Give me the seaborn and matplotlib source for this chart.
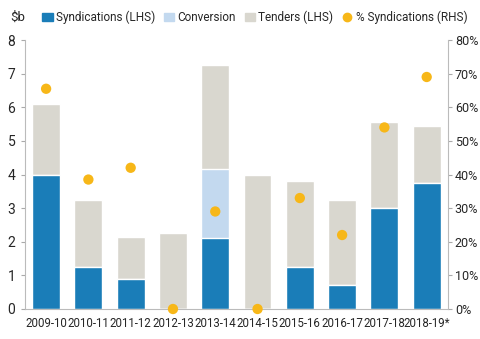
import numpy as np
import pandas as pd
import matplotlib
matplotlib.use("Agg")
import matplotlib.pyplot as plt
import seaborn as sns
from matplotlib.patches import Patch
from matplotlib.lines import Line2D

years = ['2009-10', '2010-11', '2011-12', '2012-13', '2013-14',
         '2014-15', '2015-16', '2016-17', '2017-18', '2018-19*']
syndications = [4.0, 1.25, 0.9, 0.0, 2.1, 0.0, 1.25, 0.7, 3.0, 3.75]
conversion = [0.0, 0.0, 0.0, 0.0, 2.05, 0.0, 0.0, 0.0, 0.0, 0.0]
tenders = [2.1, 2.0, 1.25, 2.25, 3.1, 4.0, 2.55, 2.55, 2.55, 1.7]
pct_synd = [65.5, 38.5, 42.0, 0.0, 29.0, 0.0, 33.0, 22.0, 54.0, 69.0]

c_synd = '#1a7db8'
c_conv = '#c3d9ef'
c_tend = '#d9d7cf'
c_dot = '#f7b718'

sns.set_style('white')
plt.rcParams['font.family'] = ['Roboto', 'DejaVu Sans']
plt.rcParams['font.size'] = 9.5

df = pd.DataFrame({'year': years, 'synd': syndications, 'conv': conversion,
                   'tend': tenders, 'pct': pct_synd})
df['synd_conv'] = df['synd'] + df['conv']
df['total'] = df['synd_conv'] + df['tend']

fig = plt.figure(figsize=(4.8, 3.39), dpi=100)
ax = fig.add_axes([0.052, 0.0885, 0.881, 0.7935])

# stacked look: draw totals, then the lower layers on top
sns.barplot(data=df, x='year', y='total', color=c_tend, width=0.66, ax=ax, saturation=1)
sns.barplot(data=df, x='year', y='synd_conv', color=c_conv, width=0.66, ax=ax, saturation=1)
sns.barplot(data=df, x='year', y='synd', color=c_synd, width=0.66, ax=ax, saturation=1)

ax.set_xlim(-0.5, 9.5)
ax.set_ylim(0, 8)
ax.set_yticks(range(0, 9))
ax.set_xlabel('')
ax.set_ylabel('')
ax.set_xticks(np.arange(-0.5, 10, 1), minor=True)
ax.tick_params(axis='x', which='major', length=0, pad=6, labelsize=8.3)
ax.tick_params(axis='x', which='minor', length=3, direction='in', color='#aaaaaa')
ax.tick_params(axis='y', length=3, color='#aaaaaa', pad=4, labelsize=10)

ax2 = ax.twinx()
sns.scatterplot(x=np.arange(len(years)), y=df['pct'], color=c_dot, s=55,
                edgecolor='none', ax=ax2, clip_on=False, zorder=5)
ax2.set_ylim(0, 80)
ax2.set_yticks(range(0, 81, 10))
ax2.set_yticklabels([f'{v}%' for v in range(0, 81, 10)])
ax2.set_ylabel('')
ax2.tick_params(axis='y', length=3, color='#aaaaaa', pad=2, labelsize=9)
ax2.set_xlim(-0.5, 9.5)

for a in (ax, ax2):
    a.spines['top'].set_visible(False)
    for s in ('left', 'right', 'bottom'):
        a.spines[s].set_color('#bbbbbb')
        a.spines[s].set_linewidth(0.8)
ax.spines['right'].set_visible(False)
ax2.spines['left'].set_visible(False)
ax2.spines['bottom'].set_visible(False)

handles = [Patch(color=c_synd), Patch(color=c_conv), Patch(color=c_tend),
           Line2D([], [], marker='o', ls='', color=c_dot, markersize=6)]
labels = ['Syndications (LHS)', 'Conversion', 'Tenders (LHS)', '% Syndications (RHS)']
fig.legend(handles, labels, loc='center left', bbox_to_anchor=(0.078, 0.948),
           ncol=4, frameon=False, handlelength=0.9, handleheight=0.7,
           handletextpad=0.25, columnspacing=0.75, borderaxespad=0, fontsize=8.5)
fig.text(0.021, 0.948, '$b', va='center', ha='left', fontsize=9.5)

fig.savefig('out.png', dpi=100)
